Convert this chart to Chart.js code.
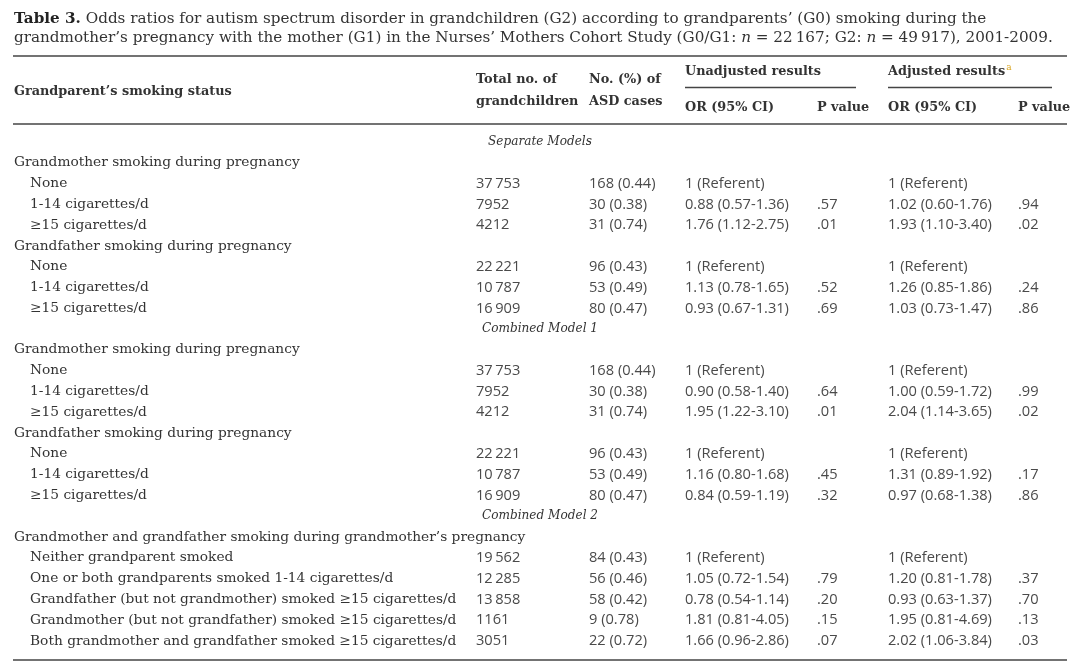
<!DOCTYPE html>
<html>
<head>
<meta charset="utf-8">
<script src="https://cdn.jsdelivr.net/npm/chart.js@4.4.1/dist/chart.umd.min.js"></script>
<style>
  html, body { margin: 0; padding: 0; background: #fff; }
  #wrap { width: 1080px; height: 667px; position: relative; }
</style>
</head>
<body>
<div id="wrap"><canvas id="tableChart"></canvas></div>
<script>
// table rows (body), top to bottom
var rowLabels = [
  "Separate Models",
  "Grandmother smoking during pregnancy", "None", "1-14 cigarettes/d", "\u226515 cigarettes/d",
  "Grandfather smoking during pregnancy", "None", "1-14 cigarettes/d", "\u226515 cigarettes/d",
  "Combined Model 1",
  "Grandmother smoking during pregnancy", "None", "1-14 cigarettes/d", "\u226515 cigarettes/d",
  "Grandfather smoking during pregnancy", "None", "1-14 cigarettes/d", "\u226515 cigarettes/d",
  "Combined Model 2",
  "Grandmother and grandfather smoking during grandmother\u2019s pregnancy",
  "Neither grandparent smoked",
  "One or both grandparents smoked 1-14 cigarettes/d",
  "Grandfather (but not grandmother) smoked \u226515 cigarettes/d",
  "Grandmother (but not grandfather) smoked \u226515 cigarettes/d",
  "Both grandmother and grandfather smoked \u226515 cigarettes/d"
];
var rowKinds = [
  "model", "group", "item", "item", "item", "group", "item", "item", "item",
  "model", "group", "item", "item", "item", "group", "item", "item", "item",
  "model", "group", "item", "item", "item", "item", "item"
];
var N = null;
var totals =    [N, N, 37753, 7952, 4212, N, 22221, 10787, 16909, N, N, 37753, 7952, 4212, N, 22221, 10787, 16909, N, N, 19562, 12285, 13858, 1161, 3051];
var asdCases =  [N, N, 168, 30, 31, N, 96, 53, 80, N, N, 168, 30, 31, N, 96, 53, 80, N, N, 84, 56, 58, 9, 22];
var asdPct =    [N, N, 0.44, 0.38, 0.74, N, 0.43, 0.49, 0.47, N, N, 0.44, 0.38, 0.74, N, 0.43, 0.49, 0.47, N, N, 0.43, 0.46, 0.42, 0.78, 0.72];
var orUnadj =   [N, N, 1, 0.88, 1.76, N, 1, 1.13, 0.93, N, N, 1, 0.90, 1.95, N, 1, 1.16, 0.84, N, N, 1, 1.05, 0.78, 1.81, 1.66];
var loUnadj =   [N, N, N, 0.57, 1.12, N, N, 0.78, 0.67, N, N, N, 0.58, 1.22, N, N, 0.80, 0.59, N, N, N, 0.72, 0.54, 0.81, 0.96];
var hiUnadj =   [N, N, N, 1.36, 2.75, N, N, 1.65, 1.31, N, N, N, 1.40, 3.10, N, N, 1.68, 1.19, N, N, N, 1.54, 1.14, 4.05, 2.86];
var pUnadj =    [N, N, N, 0.57, 0.01, N, N, 0.52, 0.69, N, N, N, 0.64, 0.01, N, N, 0.45, 0.32, N, N, N, 0.79, 0.20, 0.15, 0.07];
var orAdj =     [N, N, 1, 1.02, 1.93, N, 1, 1.26, 1.03, N, N, 1, 1.00, 2.04, N, 1, 1.31, 0.97, N, N, 1, 1.20, 0.93, 1.95, 2.02];
var loAdj =     [N, N, N, 0.60, 1.10, N, N, 0.85, 0.73, N, N, N, 0.59, 1.14, N, N, 0.89, 0.68, N, N, N, 0.81, 0.63, 0.81, 1.06];
var hiAdj =     [N, N, N, 1.76, 3.40, N, N, 1.86, 1.47, N, N, N, 1.72, 3.65, N, N, 1.92, 1.38, N, N, N, 1.78, 1.37, 4.69, 3.84];
var pAdj =      [N, N, N, 0.94, 0.02, N, N, 0.24, 0.86, N, N, N, 0.99, 0.02, N, N, 0.17, 0.86, N, N, N, 0.37, 0.70, 0.13, 0.03];

// column x positions (chart x scale runs 0..1080)
var colX = { label: 14, indent: 30, total: 476, cases: 589, orU: 685, pU: 817, orA: 888, pA: 1018, center: 540 };

var FAMILY = '"DejaVu Serif", "Liberation Serif", serif';
var NUMFAMILY = '"Open Sans", "Noto Sans", sans-serif';
var TEXT = "#333333";

function fmtTotal(n) {
  if (n >= 10000) return String(n).replace(/\B(?=(\d{3})+(?!\d))/g, "\u2009");
  return String(n);
}
function fmtOR(or, lo, hi) {
  if (lo == null) return "1 (Referent)";
  return or.toFixed(2) + " (" + lo.toFixed(2) + "-" + hi.toFixed(2) + ")";
}
function fmtP(p) {
  return p.toFixed(2).replace(/^0/, "");
}

// pick font size so a sample text gets a target width
var measureCtx = document.createElement("canvas").getContext("2d");
function fitSize(text, style, width, family) {
  measureCtx.font = style + " 20px " + (family || FAMILY);
  return 20 * width / measureCtx.measureText(text).width;
}
var bodySize = fitSize("Grandmother smoking during pregnancy", "normal", 286);
var headSize = fitSize("Grandparent\u2019s smoking status", "bold", 218);
var titleSize = fitSize("Table 3. Odds ratios for autism spectrum disorder in grandchildren (G2) according to grandparents\u2019 (G0) smoking during the", "normal", 967);
var italSize = fitSize("Separate Models", "italic", 104);
var numSize = fitSize("0.88 (0.57-1.36)", "normal", 104, NUMFAMILY);

function drawSegments(ctx, x, y, segs) {
  segs.forEach(function (s) {
    ctx.font = s[0] + " " + titleSize + "px " + FAMILY;
    ctx.fillStyle = s[2] || TEXT;
    ctx.fillText(s[1], x, y);
    x += ctx.measureText(s[1]).width;
  });
}

function hLine(ctx, x1, x2, y, w) {
  ctx.beginPath();
  ctx.lineWidth = w;
  ctx.strokeStyle = "#444";
  ctx.moveTo(x1, y);
  ctx.lineTo(x2, y);
  ctx.stroke();
}

var tablePlugin = {
  id: "tablePlugin",
  afterDatasetsDraw: function (chart) {
    var ctx = chart.ctx;
    var xs = chart.scales.x;
    var ys = chart.scales.y;
    ctx.save();
    ctx.textBaseline = "middle";
    ctx.textAlign = "left";

    // title
    drawSegments(ctx, 14, 19, [
      ["bold", "Table 3.", "#222"],
      ["normal", " Odds ratios for autism spectrum disorder in grandchildren (G2) according to grandparents\u2019 (G0) smoking during the"]
    ]);
    drawSegments(ctx, 14, 38, [
      ["normal", "grandmother\u2019s pregnancy with the mother (G1) in the Nurses\u2019 Mothers Cohort Study (G0/G1: "],
      ["italic", "n"],
      ["normal", " = 22\u2009167; G2: "],
      ["italic", "n"],
      ["normal", " = 49\u2009917), 2001-2009."]
    ]);

    // header
    hLine(ctx, 13, 1067, 56, 1.5);
    ctx.fillStyle = TEXT;
    ctx.font = "bold " + headSize + "px " + FAMILY;
    ctx.fillText("Grandparent\u2019s smoking status", xs.getPixelForValue(colX.label), 92);
    ctx.fillText("Total no. of", xs.getPixelForValue(colX.total), 80);
    ctx.fillText("grandchildren", xs.getPixelForValue(colX.total), 102);
    ctx.fillText("No. (%) of", xs.getPixelForValue(colX.cases), 80);
    ctx.fillText("ASD cases", xs.getPixelForValue(colX.cases), 102);
    ctx.fillText("Unadjusted results", xs.getPixelForValue(colX.orU), 72);
    ctx.fillText("Adjusted results", xs.getPixelForValue(colX.orA), 72);
    var adjW = ctx.measureText("Adjusted results").width;
    ctx.fillText("OR (95% CI)", xs.getPixelForValue(colX.orU), 108);
    ctx.fillText("P value", xs.getPixelForValue(colX.pU), 108);
    ctx.fillText("OR (95% CI)", xs.getPixelForValue(colX.orA), 108);
    ctx.fillText("P value", xs.getPixelForValue(colX.pA), 108);
    ctx.font = "normal 9px " + FAMILY;
    ctx.fillStyle = "#d9a520";
    ctx.fillText("a", xs.getPixelForValue(colX.orA) + adjW + 1, 68);
    hLine(ctx, 685, 856, 87.5, 1.5);
    hLine(ctx, 888, 1052, 87.5, 1.5);
    hLine(ctx, 13, 1067, 124, 1.5);

    // body rows
    rowLabels.forEach(function (label, i) {
      var y = ys.getPixelForValue(i);
      var kind = rowKinds[i];
      ctx.fillStyle = TEXT;
      if (kind === "model") {
        ctx.font = "italic " + italSize + "px " + FAMILY;
        ctx.textAlign = "center";
        ctx.fillText(label, xs.getPixelForValue(colX.center), y);
        ctx.textAlign = "left";
        return;
      }
      ctx.font = "normal " + bodySize + "px " + FAMILY;
      var lx = kind === "group" ? colX.label : colX.indent;
      ctx.fillText(label, xs.getPixelForValue(lx), y);
      if (totals[i] == null) return;
      ctx.font = "normal " + numSize + "px " + NUMFAMILY;
      ctx.fillStyle = "#4a4a4a";
      ctx.fillText(fmtTotal(totals[i]), xs.getPixelForValue(colX.total), y);
      ctx.fillText(asdCases[i] + " (" + asdPct[i].toFixed(2) + ")", xs.getPixelForValue(colX.cases), y);
      ctx.fillText(fmtOR(orUnadj[i], loUnadj[i], hiUnadj[i]), xs.getPixelForValue(colX.orU), y);
      if (pUnadj[i] != null) ctx.fillText(fmtP(pUnadj[i]), xs.getPixelForValue(colX.pU), y);
      ctx.fillText(fmtOR(orAdj[i], loAdj[i], hiAdj[i]), xs.getPixelForValue(colX.orA), y);
      if (pAdj[i] != null) ctx.fillText(fmtP(pAdj[i]), xs.getPixelForValue(colX.pA), y);
    });

    hLine(ctx, 13, 1067, 660, 1.5);
    ctx.restore();
  }
};

var ctxTable = document.getElementById("tableChart");
var chartTable = new Chart(ctxTable, {
  type: "scatter",
  data: {
    datasets: [
      {
        label: "rows",
        data: rowLabels.map(function (l, i) { return { x: colX.label, y: i }; }),
        pointRadius: 0,
        pointHoverRadius: 0,
      },
    ],
  },
  options: {
    responsive: true,
    maintainAspectRatio: false,
    animation: false,
    layout: { padding: { top: 131.6, bottom: 15.6, left: 0, right: 0 } },
    plugins: { legend: { display: false }, tooltip: { enabled: false } },
    scales: {
      x: { type: "linear", min: 0, max: 1080, display: false },
      y: { type: "linear", min: -0.5, max: rowLabels.length - 0.5, reverse: true, display: false },
    },
  },
  plugins: [tablePlugin],
});
</script>
</body>
</html>
